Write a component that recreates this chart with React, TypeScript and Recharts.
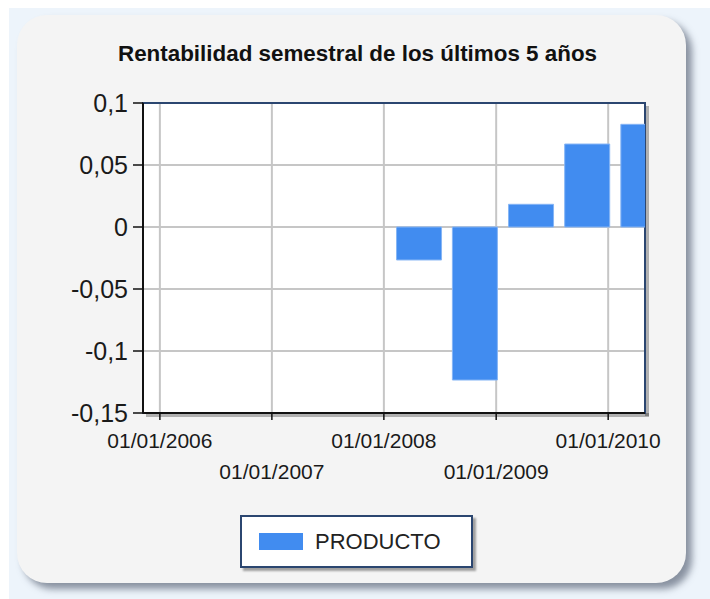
import { Bar, BarChart, CartesianGrid, Legend, ReferenceArea, XAxis, YAxis } from 'recharts'

const title = 'Rentabilidad semestral de los últimos 5 años'
const seriesName = 'PRODUCTO'
// semester returns, plotted at the middle of each semester
const dates = ['2008-04-26', '2008-10-25', '2009-04-26', '2009-10-26', '2010-04-27']
const values = [-0.0266, -0.1234, 0.0183, 0.0669, 0.0828]
const yearTicks = ['2006-01-01', '2007-01-01', '2008-01-01', '2009-01-01', '2010-01-01']
const yTicks = [-0.15, -0.1, -0.05, 0, 0.05, 0.1]
const xRange = ['2005-11-07', '2010-05-01']

const BLUE = '#418cf0'
const FONT = '"Liberation Sans", Arial, sans-serif'

const ms = (d: string) => Date.parse(d + 'T00:00:00Z')
const data = dates.map((d, i) => ({ t: ms(d), value: values[i] }))

const fmtDate = (v: number) => {
  const d = new Date(v)
  const p = (n: number) => String(n).padStart(2, '0')
  return `${p(d.getUTCDate())}/${p(d.getUTCMonth() + 1)}/${d.getUTCFullYear()}`
}
const fmtNum = (v: number) => String(v).replace('.', ',')

function XTick(props: any) {
  const { x, y, payload } = props
  const row = (new Date(payload.value).getUTCFullYear() - 2006) % 2
  return (
    <text x={x} y={y} dy={row ? 59 : 28} textAnchor="middle" fontSize={21} fontFamily={FONT} fill="#1a1a1a">
      {fmtDate(payload.value)}
    </text>
  )
}

function Frame(props: any) {
  const { x, y, width, height } = props
  return (
    <g>
      <rect x={x + width} y={y + 3} width={4} height={height} fill="rgba(0,0,0,0.28)" />
      <rect x={x + 3} y={y + height} width={width + 1} height={4} fill="rgba(0,0,0,0.28)" />
      <rect x={x} y={y} width={width} height={height} fill="none" stroke="#2b4670" strokeWidth={2} />
    </g>
  )
}

function LegendBox() {
  return (
    <div
      style={{
        marginLeft: 240,
        width: 233,
        height: 53,
        boxSizing: 'border-box',
        border: '2px solid #2b4670',
        background: '#fff',
        boxShadow: '3px 3px 2px rgba(0,0,0,0.35)',
        display: 'flex',
        alignItems: 'center',
        fontFamily: FONT,
        fontSize: 22,
        color: '#222',
      }}
    >
      <span style={{ width: 44, height: 17, background: BLUE, marginLeft: 17, marginRight: 12 }} />
      <span>{seriesName}</span>
    </div>
  )
}

export default function App() {
  return (
    <div style={{ position: 'absolute', left: 0, top: 0, width: 710, height: 599, background: '#fff', overflow: 'hidden' }}>
      <div style={{ position: 'absolute', left: 9, top: 8, right: 0, bottom: 0, background: '#edf4fb' }} />
      <div
        style={{
          position: 'absolute',
          left: 17,
          top: 15,
          width: 669,
          height: 568,
          borderRadius: 30,
          background: '#f4f4f4',
          boxShadow: '6px 6px 7px rgba(70,80,100,0.6)',
        }}
      />
      <div
        style={{
          position: 'absolute',
          left: 0,
          top: 43,
          width: 715,
          textAlign: 'center',
          fontFamily: FONT,
          fontWeight: 'bold',
          fontSize: 22.4,
          lineHeight: '22px',
          color: '#111',
        }}
      >
        {title}
      </div>
      <div style={{ position: 'absolute', left: 0, top: 0 }}>
        <BarChart width={710} height={599} data={data} margin={{ top: 103, right: 65, left: 0, bottom: 31 }}>
          <CartesianGrid stroke="#c6c6c6" strokeWidth={2} fill="#fff" fillOpacity={1} />
          <XAxis
            dataKey="t"
            type="number"
            scale="linear"
            domain={[ms(xRange[0]), ms(xRange[1])]}
            ticks={yearTicks.map(ms)}
            allowDataOverflow
            interval={0}
            height={102}
            tickSize={7}
            tickMargin={0}
            tick={<XTick />}
            axisLine={{ stroke: '#111', strokeWidth: 2 }}
            tickLine={{ stroke: '#111', strokeWidth: 1.5 }}
          />
          <YAxis
            type="number"
            domain={[-0.15, 0.1]}
            ticks={yTicks}
            interval={0}
            width={143}
            tickSize={10}
            tickMargin={5}
            tickFormatter={fmtNum}
            tick={{ fontSize: 25, fontFamily: FONT, fill: '#1a1a1a' }}
            axisLine={{ stroke: '#111', strokeWidth: 2 }}
            tickLine={{ stroke: '#111', strokeWidth: 1.5 }}
          />
          <Bar dataKey="value" name={seriesName} fill={BLUE} stroke="#86b5f5" strokeWidth={1} barSize={45} isAnimationActive={false} />
          <ReferenceArea
            x1={ms(xRange[0])}
            x2={ms(xRange[1])}
            y1={-0.15}
            y2={0.1}
            ifOverflow="visible"
            shape={<Frame />}
          />
          <Legend verticalAlign="bottom" content={<LegendBox />} />
        </BarChart>
      </div>
    </div>
  )
}
